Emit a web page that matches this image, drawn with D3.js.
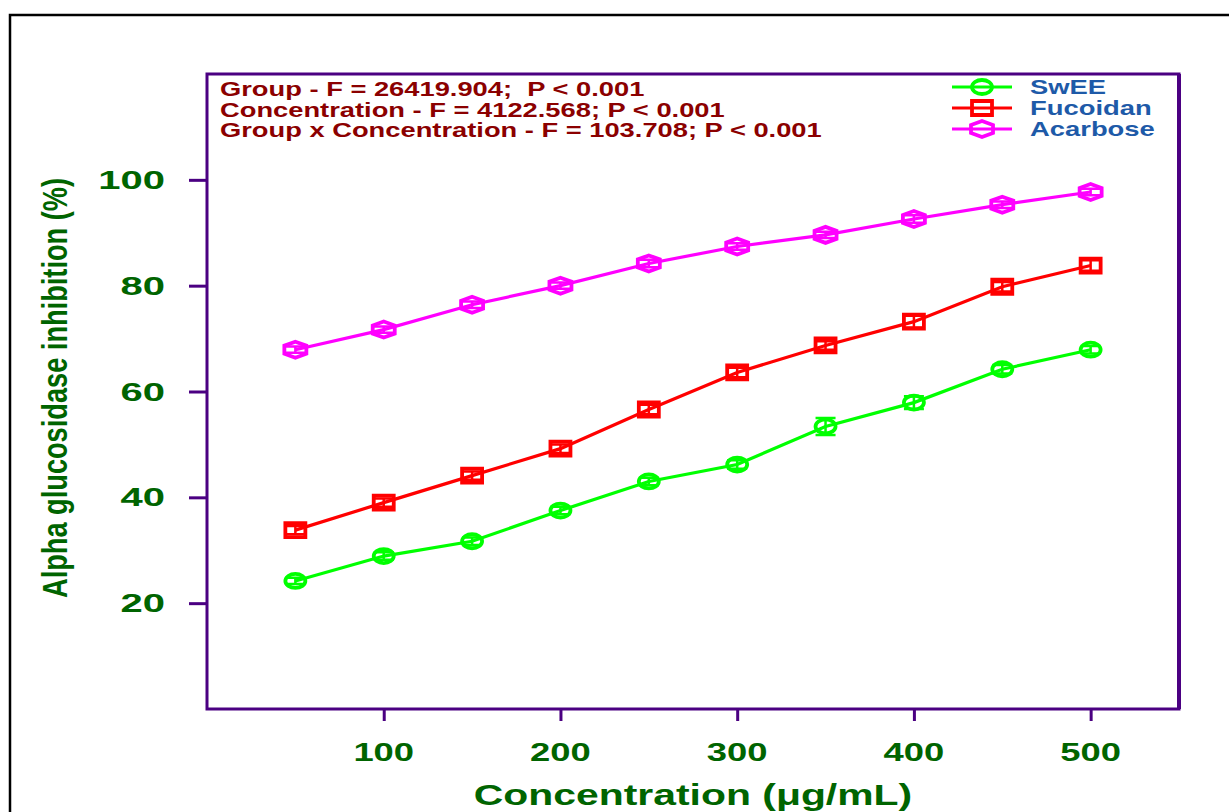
<!DOCTYPE html>
<html>
<head>
<meta charset="utf-8">
<script src="https://cdn.jsdelivr.net/npm/d3@7"></script>
<style>
  body { margin: 0; background: #fff; }
  text { font-family: Arial, "Liberation Sans", sans-serif; font-weight: bold; white-space: pre; }
</style>
</head>
<body>
<div id="chart"></div>
<script>
// concentration (ug/mL)
const concentrations = [50, 100, 150, 200, 250, 300, 350, 400, 450, 500];

const sweeValues     = [24.2, 28.9, 31.7, 37.5, 43.0, 46.2, 53.4, 57.9, 64.2, 67.9];
const sweeErrors     = [0.6, 0.7, 0.7, 0.7, 0.7, 0.8, 1.6, 1.2, 0.8, 0.7];
const fucoidanValues = [33.8, 39.0, 44.1, 49.2, 56.6, 63.6, 68.7, 73.2, 79.8, 83.8];
const fucoidanErrors = [0.8, 0.8, 0.8, 0.8, 0.9, 0.9, 0.8, 1.1, 0.9, 1.0];
const acarboseValues = [67.9, 71.7, 76.4, 80.0, 84.2, 87.4, 89.6, 92.6, 95.3, 97.7];
const acarboseErrors = [0.6, 0.6, 0.6, 0.6, 0.7, 0.6, 0.6, 0.7, 0.6, 0.6];

const seriesNames  = ['SwEE', 'Fucoidan', 'Acarbose'];
const seriesColors = ['#00ff00', '#ff0000', '#ff00ff'];
const seriesShapes = ['circle', 'square', 'hexagon'];

const xTicks = [100, 200, 300, 400, 500];
const yTicks = [20, 40, 60, 80, 100];

const statLines = [
  'Group - F = 26419.904;  P < 0.001',
  'Concentration - F = 4122.568; P < 0.001',
  'Group x Concentration - F = 103.708; P < 0.001'
];

const xTitle = 'Concentration (\u03bcg/mL)';
const yTitle = 'Alpha glucosidase inhibition (%)';

const series = [
  {name: seriesNames[0], values: sweeValues, errors: sweeErrors},
  {name: seriesNames[1], values: fucoidanValues, errors: fucoidanErrors},
  {name: seriesNames[2], values: acarboseValues, errors: acarboseErrors}
].map((s, i) => ({...s, color: seriesColors[i], shape: seriesShapes[i],
  points: concentrations.map((c, j) => ({x: c, y: s.values[j], e: s.errors[j]}))}));

const width = 1229, height = 812;
const plot = {left: 207, top: 74, right: 1179, bottom: 709};
const axisColor = '#4b0082', green = '#006400', statColor = '#8b0000', legendColor = '#1e5aa8';

const x = d3.scaleLinear().domain([0, 550]).range([plot.left, plot.right]);
const y = d3.scaleLinear().domain([0, 120]).range([plot.bottom, plot.top]);

const svg = d3.select('#chart').append('svg')
  .attr('width', width).attr('height', height)
  .style('display', 'block');

svg.append('rect').attr('width', width).attr('height', height).attr('fill', '#fff');

// outer page frame
svg.append('rect')
  .attr('x', 10).attr('y', 15).attr('width', 1400).attr('height', 1000)
  .attr('fill', 'none').attr('stroke', '#000').attr('stroke-width', 2.5);

// stretched text helper: group at (px,py) scaled horizontally
const stretched = (parent, txt, px, py, size, sx, color, anchor) => {
  parent.append('g')
    .attr('transform', `translate(${px},${py}) scale(${sx},1)`)
    .append('text')
    .attr('font-size', size)
    .attr('fill', color)
    .attr('text-anchor', anchor || 'start')
    .text(txt);
};

// plot frame
svg.append('rect')
  .attr('x', plot.left).attr('y', plot.top)
  .attr('width', plot.right - plot.left).attr('height', plot.bottom - plot.top)
  .attr('fill', 'none').attr('stroke', axisColor).attr('stroke-width', 3);
svg.append('line')
  .attr('x1', plot.right).attr('x2', plot.right).attr('y1', plot.top).attr('y2', plot.bottom)
  .attr('stroke', axisColor).attr('stroke-width', 4);

// axes ticks (lines only)
svg.append('g')
  .attr('transform', `translate(${plot.left},0)`)
  .call(d3.axisLeft(y).tickValues(yTicks).tickSize(18).tickFormat(''))
  .call(g => g.select('.domain').remove())
  .call(g => g.selectAll('line').attr('stroke', axisColor).attr('stroke-width', 3));

svg.append('g')
  .attr('transform', `translate(0,${plot.bottom})`)
  .call(d3.axisBottom(x).tickValues(xTicks).tickSize(12).tickFormat(''))
  .call(g => g.select('.domain').remove())
  .call(g => g.selectAll('line').attr('stroke', axisColor).attr('stroke-width', 3));

// tick labels
yTicks.forEach(t => stretched(svg, String(t), 165, y(t) + 9, 25, 1.6, green, 'end'));
xTicks.forEach(t => stretched(svg, String(t), x(t), 761, 26, 1.4, green, 'middle'));

// axis titles
stretched(svg, xTitle, 693, 805, 29, 1.41, green, 'middle');
svg.append('g')
  .attr('transform', 'translate(67,388) rotate(-90) scale(1,1.3)')
  .append('text')
  .attr('font-size', 27)
  .attr('fill', green)
  .attr('text-anchor', 'middle')
  .attr('textLength', 420)
  .attr('lengthAdjust', 'spacingAndGlyphs')
  .text(yTitle);

// stats annotation
statLines.forEach((l, i) => stretched(svg, l, 220, 96 + i * 20.7, 19.5, 1.4, statColor));

// marker shapes
const markerPath = shape => {
  if (shape === 'circle') return 'M-10,0A10,7 0 1,0 10,0A10,7 0 1,0 -10,0Z';
  if (shape === 'square') return 'M-10,-7H10V7H-10Z';
  return 'M0,-8L11,-4L11,4L0,8L-11,4L-11,-4Z';
};

const line = d3.line().x(d => x(d.x)).y(d => y(d.y));

const sg = svg.selectAll('g.series')
  .data(series)
  .join('g').attr('class', 'series');

sg.append('path')
  .attr('d', d => line(d.points))
  .attr('fill', 'none')
  .attr('stroke', d => d.color)
  .attr('stroke-width', 3.2);

sg.each(function(s) {
  const g = d3.select(this);
  const pts = g.selectAll('g.pt')
    .data(s.points)
    .join('g').attr('class', 'pt')
    .attr('transform', d => `translate(${x(d.x)},${y(d.y)})`);

  pts.append('path')
    .attr('d', d => {
      const dy = y(d.y - d.e) - y(d.y);
      return `M0,${-dy}V${dy}M-10,${-dy}H10M-10,${dy}H10`;
    })
    .attr('stroke', s.color).attr('stroke-width', 2.5).attr('fill', 'none');

  pts.append('path')
    .attr('d', markerPath(s.shape))
    .attr('fill', 'none')
    .attr('stroke', s.color)
    .attr('stroke-width', 3.8);
});

// legend
const legend = svg.selectAll('g.legend')
  .data(series)
  .join('g').attr('class', 'legend')
  .attr('transform', (d, i) => `translate(0,${87 + i * 21})`);

legend.append('line')
  .attr('x1', 952).attr('x2', 1012)
  .attr('stroke', d => d.color).attr('stroke-width', 3.2);

legend.append('path')
  .attr('transform', 'translate(982,0)')
  .attr('d', d => markerPath(d.shape))
  .attr('fill', 'none')
  .attr('stroke', d => d.color)
  .attr('stroke-width', 3.8);

legend.each(function(d) {
  stretched(d3.select(this), d.name, 1030, 7, 20, 1.37, legendColor);
});
</script>
</body>
</html>
